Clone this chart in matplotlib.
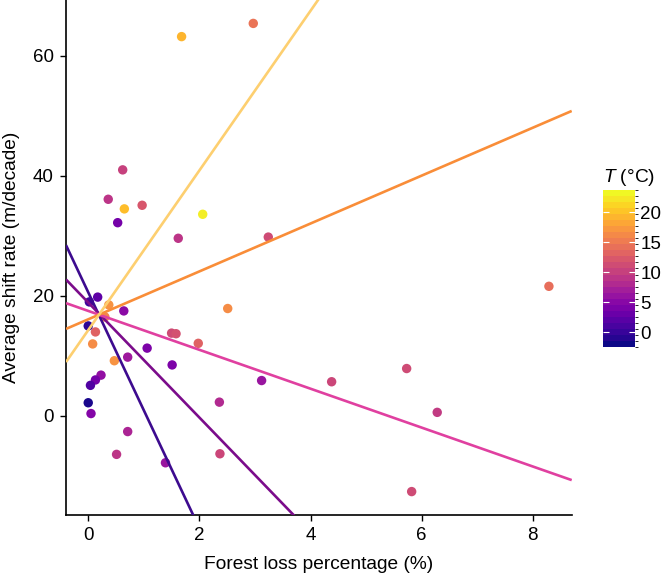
import numpy as np
import matplotlib
matplotlib.use("Agg")
import matplotlib.pyplot as plt
from matplotlib.colors import Normalize, BoundaryNorm
import matplotlib.cm as cm

plt.rcParams['font.family'] = ['Liberation Sans', 'DejaVu Sans']
plt.rcParams['mathtext.fontset'] = 'custom'
plt.rcParams['mathtext.it'] = 'Liberation Sans:italic'
plt.rcParams['mathtext.rm'] = 'Liberation Sans'

# forest loss (%), shift rate (m/decade), temperature (deg C)
forest_loss = [1.68, 2.97, 0.62, 0.36, 0.65, 0.97, 0.53, 2.06, 1.62, 3.24,
               0.17, 2.51, 0.64, 0.37, 0.02, 0.13, 0.00, 0.08, 1.50, 1.58,
               1.98, 1.06, 0.47, 0.71, 1.51, 0.23, 0.13, 0.04, 0.00, 0.05,
               3.12, 2.36, 0.71, 0.51, 2.37, 1.39, 8.29, 4.38, 5.73, 6.28,
               5.82, 0.30]
shift_rate = [63.2, 65.4, 41.0, 36.1, 34.5, 35.1, 32.2, 33.6, 29.6, 29.8,
              19.8, 17.9, 17.5, 18.5, 19.0, 14.0, 15.0, 12.0, 13.8, 13.7,
              12.1, 11.3, 9.2, 9.8, 8.5, 6.8, 6.0, 5.1, 2.2, 0.4,
              5.9, 2.3, -2.6, -6.4, -6.3, -7.8, 21.6, 5.7, 7.9, 0.6,
              -12.6, 16.5]
temperature = [19.5, 14.5, 10.0, 9.0, 20.0, 12.0, 3.5, 23.0, 9.0, 11.0,
               2.0, 16.5, 5.0, 17.0, 0.0, 13.0, -1.0, 16.5, 11.0, 11.5,
               13.0, 4.0, 17.0, 6.5, 4.0, 5.5, 3.5, 1.0, -2.0, 4.5,
               6.0, 8.0, 7.5, 9.0, 10.5, 6.0, 14.0, 10.5, 11.0, 9.5,
               11.0, 16.0]

# fitted lines at fixed temperatures: intercept at 0 % and slope
line_intercept = [20.6, 18.9, 17.5, 16.1, 14.3]
line_slope = [-19.65, -9.58, -3.24, 3.99, 13.3]
line_colors = ['#3d0b8f', '#7b0c8b', '#e040a0', '#f98d38', '#fdcf70']

fig = plt.figure(figsize=(6.64, 5.74), dpi=100)
ax = fig.add_axes([0.0994, 0.1028, 0.7616, 0.8972])

xlim = (-0.4, 8.7)
ylim = (-16.5, 69.3)
cmap = plt.get_cmap('plasma')
bounds = np.linspace(-2.5, 23.7, 27)
norm = BoundaryNorm(bounds, cmap.N)

ax.scatter(forest_loss, shift_rate, c=temperature, cmap=cmap,
           norm=Normalize(-2.5, 23.7), s=46, linewidths=0, zorder=2)

xs = np.array(xlim)
for b, m, col in zip(line_intercept, line_slope, line_colors):
    ax.plot(xs, b + m * xs, color=col, lw=1.9, zorder=3, solid_capstyle='butt')

ax.set_xlim(*xlim)
ax.set_ylim(*ylim)
ax.set_xticks([0, 2, 4, 6, 8])
ax.set_yticks([0, 20, 40, 60])
for s in ['top', 'right']:
    ax.spines[s].set_visible(False)
for s in ['left', 'bottom']:
    ax.spines[s].set_linewidth(1.2)
ax.tick_params(direction='out', length=4, width=1.0, labelsize=13.5,
               colors='black', pad=5)
ax.set_xlabel('Forest loss percentage (%)', fontsize=13.8, labelpad=8)
ax.set_ylabel('Average shift rate (m/decade)', fontsize=13.8, labelpad=9)

cax = fig.add_axes([0.908, 0.3955, 0.048, 0.2735])
sm = cm.ScalarMappable(norm=norm, cmap=cmap)
cb = fig.colorbar(sm, cax=cax, ticks=[0, 5, 10, 15, 20], drawedges=False)
cb.outline.set_visible(False)
cax.tick_params(direction='in', length=4, width=0.8, color='white',
                left=True, right=True, labelsize=13.5, pad=4)
cax.set_title(r'$T$ (°C)', fontsize=13.8, loc='left', pad=6)

fig.savefig('out.png', dpi=100)
